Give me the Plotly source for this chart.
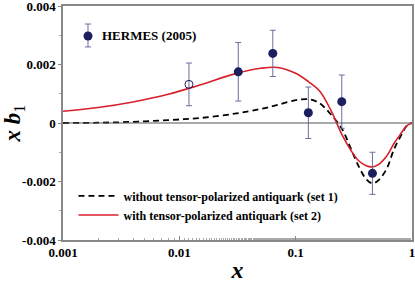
import plotly.graph_objects as go

# Curves
x_curve = [0.001, 0.002, 0.004, 0.008, 0.015, 0.03, 0.05, 0.07, 0.1, 0.13, 0.16, 0.2,
           0.25, 0.3, 0.35, 0.4, 0.45, 0.5, 0.6, 0.7, 0.8, 0.9, 1.0]
set1 = [0.0, 0.00001, 0.00004, 0.0001, 0.00017, 0.00032, 0.00048, 0.00062, 0.00078, 0.00081,
        0.00068, 0.0003, -0.0002, -0.0009, -0.0015, -0.0019, -0.00206, -0.002, -0.0016,
        -0.0009, -0.00045, -0.0001, 0.0]
set2 = [0.0004, 0.00053, 0.00072, 0.00098, 0.0013, 0.00168, 0.00187, 0.0019, 0.0017, 0.0014,
        0.0011, 0.00045, -0.0004, -0.00095, -0.0013, -0.00145, -0.0015, -0.00145, -0.00115,
        -0.0007, -0.00037, -0.0001, 0.0]

# HERMES (2005) data
x_data = [0.0121, 0.0321, 0.0636, 0.1285, 0.249, 0.457]
y_data = [0.00132, 0.00175, 0.00238, 0.00035, 0.00073, -0.00172]
e_data = [0.00073, 0.00100, 0.00079, 0.00088, 0.00091, 0.00072]
open_flag = [True, False, False, False, False, False]

y_ticks = [0.004, 0.002, 0, -0.002, -0.004]
y_tick_labels = ["0.004", "0.002", "0", "-0.002", "-0.004"]
x_ticks = [0.001, 0.01, 0.1, 1]
x_tick_labels = ["0.001", "0.01", "0.1", "1"]

NAVY = "#1c1f5e"
ERRC = "#6a6f9e"
RED = "#d7202a"
FONT = "Liberation Serif"

fig = go.Figure()

fig.add_trace(go.Scatter(
    x=x_curve, y=set1, mode="lines", line=dict(color="black", width=1.8, dash="6px,4px", shape="spline"),
    name="<b>without tensor-polarized antiquark (set 1)</b>"))
fig.add_trace(go.Scatter(
    x=x_curve, y=set2, mode="lines", line=dict(color=RED, width=1.6, shape="spline"),
    name="<b>with tensor-polarized antiquark (set 2)</b>"))

xf = [x for x, o in zip(x_data, open_flag) if not o]
yf = [y for y, o in zip(y_data, open_flag) if not o]
ef = [e for e, o in zip(e_data, open_flag) if not o]
xo = [x for x, o in zip(x_data, open_flag) if o]
yo = [y for y, o in zip(y_data, open_flag) if o]
eo = [e for e, o in zip(e_data, open_flag) if o]

fig.add_trace(go.Scatter(
    x=xo, y=yo, mode="markers", showlegend=False,
    marker=dict(symbol="circle-open", size=8, color=NAVY, line=dict(width=1)),
    error_y=dict(type="data", array=eo, color=ERRC, thickness=1, width=3)))
fig.add_trace(go.Scatter(
    x=xf, y=yf, mode="markers", name="HERMES (2005)", showlegend=False,
    marker=dict(symbol="circle", size=9, color=NAVY),
    error_y=dict(type="data", array=ef, color=ERRC, thickness=1, width=3)))

fig.add_hline(y=0, line=dict(color="#555555", width=1))

# HERMES legend key (paper coordinates)
lx, ly, ly0, ly1, cap = 0.0716, 0.8718, 0.825, 0.923, 0.009
for sh in [dict(x0=lx, x1=lx, y0=ly0, y1=ly1),
           dict(x0=lx - cap, x1=lx + cap, y0=ly0, y1=ly0),
           dict(x0=lx - cap, x1=lx + cap, y0=ly1, y1=ly1)]:
    fig.add_shape(type="line", xref="paper", yref="paper", line=dict(color=ERRC, width=1), **sh)
fig.add_shape(type="circle", xref="paper", yref="paper",
              x0=lx - 0.0129, x1=lx + 0.0129, y0=ly - 0.0192, y1=ly + 0.0192,
              fillcolor=NAVY, line=dict(color=NAVY, width=0))
fig.add_annotation(x=0.106, y=ly, xref="paper", yref="paper", xanchor="left", yanchor="middle",
                   text="<b>HERMES (2005)</b>", showarrow=False, font=dict(family=FONT, size=13))

fig.update_layout(
    width=415, height=283,
    margin=dict(l=63, r=3, t=6, b=43, autoexpand=False),
    paper_bgcolor="white", plot_bgcolor="white",
    font=dict(family=FONT, size=13, color="black"),
    showlegend=True,
    legend=dict(x=0.03, y=0.045, xanchor="left", yanchor="bottom", bgcolor="rgba(0,0,0,0)",
                font=dict(family=FONT, size=12), tracegroupgap=0, itemwidth=40),
    xaxis=dict(type="log", range=[-3, 0], showgrid=False, zeroline=False, automargin=False,
               showline=True, linecolor="#888888", linewidth=1.5, mirror=True,
               tickvals=x_ticks, ticktext=[f"<b>{t}</b>" for t in x_tick_labels],
               ticks="inside", ticklen=4, tickcolor="#888888", ticklabeloverflow="allow",
               minor=dict(ticks="inside", ticklen=2, tickcolor="#aaaaaa", showgrid=False),
               tickfont=dict(family=FONT, size=13),
               title=dict(text="<b><i>x</i></b>", font=dict(family=FONT, size=24), standoff=2)),
    yaxis=dict(range=[-0.004, 0.004], showgrid=False, zeroline=False, automargin=False,
               showline=True, linecolor="#888888", linewidth=1.5, mirror=True,
               tickvals=y_ticks, ticktext=[f"<b>{t}</b>" for t in y_tick_labels],
               ticks="outside", ticklen=3, tickcolor="#888888", ticklabeloverflow="allow",
               minor=dict(dtick=0.001, ticks="outside", ticklen=2, tickcolor="#aaaaaa", showgrid=False),
               tickfont=dict(family=FONT, size=13),
               title=dict(text="<b><i>x b</i></b><sub>1</sub>", font=dict(family=FONT, size=23), standoff=8)),
)

fig.write_html("out.html", config={"displayModeBar": False},
               post_script="document.body.style.margin='0';document.body.style.overflow='hidden';")
